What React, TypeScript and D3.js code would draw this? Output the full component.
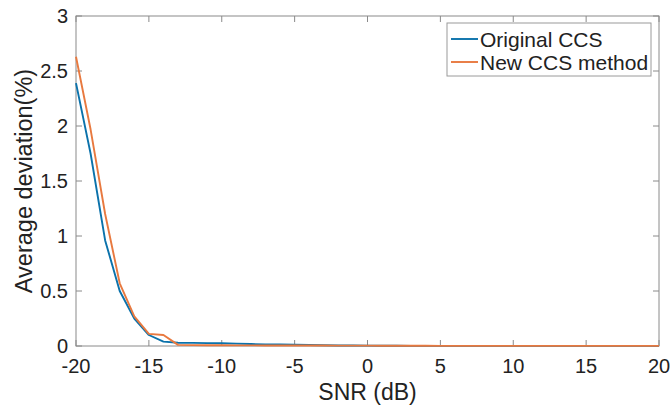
import React from "react";
import * as d3 from "d3";

const snr = d3.range(-20, 21, 1);
const originalCCS = [
  2.39, 1.75, 0.96, 0.5, 0.25, 0.1, 0.04, 0.03, 0.028, 0.026, 0.025, 0.022, 0.018, 0.015, 0.013,
  0.012, 0.009, 0.007, 0.005, 0.004, 0.003, 0.002, 0.002, 0.001, 0.001, 0.001, 0.001, 0.001,
  0.001, 0.001, 0.001, 0.001, 0.001, 0.001, 0.001, 0.001, 0.001, 0.001, 0.001, 0.001, 0.001,
];
const newCCS = [
  2.63, 1.97, 1.2, 0.57, 0.27, 0.11, 0.1, 0.01, 0.008, 0.007, 0.007, 0.006, 0.006, 0.005, 0.005,
  0.005, 0.004, 0.004, 0.003, 0.003, 0.003, 0.002, 0.002, 0.002, 0.002, 0.001, 0.001, 0.001,
  0.001, 0.001, 0.001, 0.001, 0.001, 0.001, 0.001, 0.001, 0.001, 0.001, 0.001, 0.001, 0.001,
];
const xTicks = [-20, -15, -10, -5, 0, 5, 10, 15, 20];
const yTicks = [0, 0.5, 1, 1.5, 2, 2.5, 3];
const seriesNames = ["Original CCS", "New CCS method"];
const seriesColors = ["#0B72AB", "#E8793F"];

const W = 670;
const H = 405;
const M = { left: 76, right: 11, top: 16, bottom: 59 };
const FONT = "'Liberation Sans', Arial, Helvetica, sans-serif";

export default function App() {
  const x = d3.scaleLinear().domain([-20, 20]).range([M.left, W - M.right]);
  const y = d3.scaleLinear().domain([0, 3]).range([H - M.bottom, M.top]);
  const line = d3
    .line<number>()
    .x((_, i) => x(snr[i]))
    .y((d) => y(d));
  const series = [originalCCS, newCCS];
  const axisColor = "#8a8a8a";
  const x0 = x(-20), x1 = x(20), y0 = y(0), y1 = y(3);
  const tl = 6;
  const fmtX = (v: number) => (v < 0 ? "-" + Math.abs(v) : String(v));
  const legX = 447, legY = 23, legW = 204, legH = 53;

  return (
    <svg
      width={W}
      height={H}
      style={{ position: "absolute", left: 0, top: 0, background: "#fff" }}
      fontFamily={FONT}
    >
      <rect x={0} y={0} width={W} height={H} fill="#fff" />
      {xTicks.map((t) => (
        <g key={"xt" + t}>
          <line x1={x(t)} x2={x(t)} y1={y0} y2={y0 - tl} stroke={axisColor} />
          <line x1={x(t)} x2={x(t)} y1={y1} y2={y1 + tl} stroke={axisColor} />
          <text x={x(t)} y={y0 + 27} fontSize={20} textAnchor="middle" fill="#222">
            {fmtX(t)}
          </text>
        </g>
      ))}
      {yTicks.map((t) => (
        <g key={"yt" + t}>
          <line x1={x0} x2={x0 + tl} y1={y(t)} y2={y(t)} stroke={axisColor} />
          <line x1={x1} x2={x1 - tl} y1={y(t)} y2={y(t)} stroke={axisColor} />
          <text x={x0 - 8} y={y(t) + 7} fontSize={20} textAnchor="end" fill="#222">
            {String(t)}
          </text>
        </g>
      ))}
      <rect x={x0} y={y1} width={x1 - x0} height={y0 - y1} fill="none" stroke={axisColor} />
      {series.map((s, i) => (
        <path key={i} d={line(s) || ""} fill="none" stroke={seriesColors[i]} strokeWidth={1.9} strokeLinejoin="round" />
      ))}
      <text x={(x0 + x1) / 2} y={400} fontSize={23} textAnchor="middle" fill="#222">
        SNR (dB)
      </text>
      <text
        transform={`translate(32,${(y0 + y1) / 2}) rotate(-90)`}
        fontSize={23.5}
        textAnchor="middle"
        fill="#222"
      >
        Average deviation(%)
      </text>
      <rect x={legX} y={legY} width={legW} height={legH} fill="#fff" stroke="#9a9a9a" />
      {seriesNames.map((n, i) => (
        <g key={n}>
          <line
            x1={legX + 4}
            x2={legX + 31}
            y1={legY + 16 + i * 23}
            y2={legY + 16 + i * 23}
            stroke={seriesColors[i]}
            strokeWidth={1.9}
          />
          <text x={legX + 33} y={legY + 24 + i * 23} fontSize={21} fill="#222">
            {n}
          </text>
        </g>
      ))}
    </svg>
  );
}
